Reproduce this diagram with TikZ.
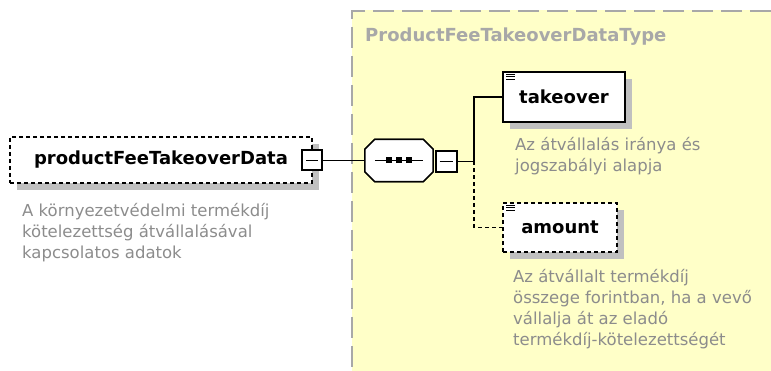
\documentclass[tikz,border=0pt]{standalone}
\usepackage{fontspec}
\setmainfont{DejaVu Sans}
\usetikzlibrary{shadows, positioning}
\definecolor{typebg}{HTML}{FFFFC8}
\definecolor{typeline}{HTML}{A8A8A8}
\definecolor{shadowgrey}{HTML}{C0C0C0}
\definecolor{docgrey}{HTML}{8C8C8C}
\newcommand{\namefont}{\fontsize{18}{21}\selectfont\bfseries}
\newcommand{\docfont}{\fontsize{16.5}{21}\selectfont}
\tikzstyle{element} = [
    rectangle,
    draw=black,
    fill=white,
    line width=1.2pt,
    inner sep=0pt,
    font=\namefont,
    general shadow={fill=shadowgrey, shadow xshift=7pt, shadow yshift=-7pt}
]
\tikzstyle{optional} = [dash pattern=on 4pt off 3pt]
\tikzstyle{toggle} = [
    rectangle,
    draw=black,
    fill=white,
    line width=2pt,
    inner sep=0pt,
    path picture={\draw[line width=1pt]
        ([xshift=4pt]path picture bounding box.west) --
        ([xshift=-4pt]path picture bounding box.east);}
]
\tikzstyle{compositor} = [
    rectangle,
    inner sep=0pt,
    minimum width=68pt,
    minimum height=42pt
]
\tikzstyle{doc} = [anchor=north west, align=left, inner sep=0pt, text=docgrey, font=\docfont]
\tikzstyle{connector} = [line width=1.2pt]

\begin{document}
\begin{tikzpicture}[x=1pt, y=-1pt]
\useasboundingbox (0,0) rectangle (771,371);

% complex type area
\fill[typebg] (352,10) rectangle (771,371);
\draw[typeline, line width=2pt, dash pattern=on 21pt off 8pt] (771,11) -- (352,11) -- (352,371);
\node (typetitle) [anchor=west, inner sep=0pt, text=typeline, font=\namefont] at (365,37)
{ProductFeeTakeoverDataType};

% elements
\node (dataelem) [element, optional, minimum width=302pt, minimum height=46pt] at (161,160)
{productFeeTakeoverData};
\node (elemtoggle) [toggle, minimum size=20pt] at (312,160.5) {};
\node (dataelemdoc) [doc] at (22,203)
{A környezetvédelmi termékdíj\\kötelezettség átvállalásával\\kapcsolatos adatok};

\node (sequence) [compositor] at (399,160.5) {};
\foreach \sx/\sy/\col in {7/-7/shadowgrey, 0/0/white}
    \draw[line width=1.5pt, fill=\col, draw=\ifx\col\empty none\else black\fi,
          shift={(\sx pt,\sy pt)}]
        ([xshift=10pt]sequence.north west) -- ([xshift=-10pt]sequence.north east)
        -- ([yshift=-10pt]sequence.north east) -- ([yshift=10pt]sequence.south east)
        -- ([xshift=-10pt]sequence.south east) -- ([xshift=10pt]sequence.south west)
        -- ([yshift=10pt]sequence.south west) -- ([yshift=-10pt]sequence.north west)
        -- cycle;
\node (seqtoggle) [toggle, minimum size=21pt] at (446,161.5) {};

\node (takeover) [element, minimum width=122pt, minimum height=50pt] at (564,97)
{takeover};
\node (takeoverdoc) [doc] at (515,137)
{Az átvállalás iránya és\\jogszabályi alapja};

\node (amount) [element, optional, minimum width=114pt, minimum height=49pt] at (560,227.5)
{amount};
\node (amountdoc) [doc] at (513,269)
{Az átvállalt termékdíj\\összege forintban, ha a vevő\\vállalja át az eladó\\termékdíj-kötelezettségét};

% sequence symbol
\draw[connector] ([xshift=10pt]sequence.west) -- ([xshift=-10pt]sequence.east);
\foreach \dx in {-10,0,10}
    \fill ([xshift=\dx pt]sequence.center) +(-3pt,-3pt) rectangle +(3pt,3pt);

% documentation marks
\foreach \n in {takeover, amount}
    \foreach \dy in {3,5.5,8}
        \draw[line width=0.8pt] ([xshift=4pt, yshift=-\dy pt]\n.north west) -- ++(9pt,0pt);

% connectors
\coordinate (junction) at (474,161.5);
\draw [connector] (elemtoggle.east) -- (sequence.west);
\draw [connector] (seqtoggle.east) -- (junction) |- (takeover.west);
\draw [connector, optional] (junction) |- (amount.west);

\end{tikzpicture}
\end{document}
